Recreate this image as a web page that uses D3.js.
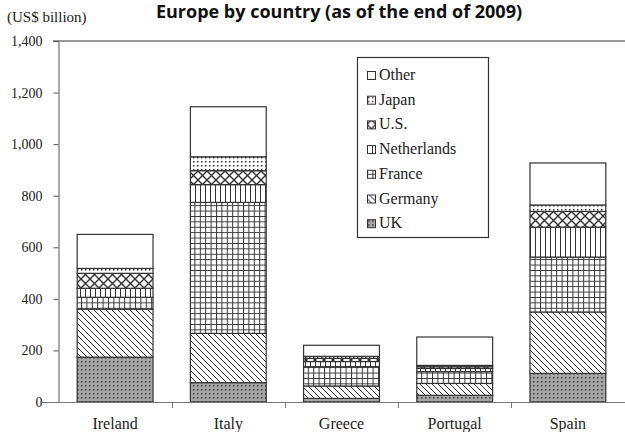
<!DOCTYPE html>
<html>
<head>
<meta charset="utf-8">
<script src="https://cdn.jsdelivr.net/npm/d3@7"></script>
<style>
  html, body { margin: 0; padding: 0; background: #fff; }
  svg { display: block; }
</style>
</head>
<body>
<svg id="chart" width="625" height="432"></svg>
<script>
// Foreign bank claims on selected European countries, by lender country (US$ billion)
const categories = ["Ireland", "Italy", "Greece", "Portugal", "Spain"];
const seriesNames = ["UK", "Germany", "France", "Netherlands", "U.S.", "Japan", "Other"];
const uk          = [174,  75, 14,  26, 111];
const germany     = [186, 191, 48,  46, 238];
const france      = [ 46, 508, 75,  46, 213];
const netherlands = [ 35,  69, 20,  12, 116];
const us          = [ 58,  54, 12,   7,  61];
const japan       = [ 19,  54,  8,   5,  25];
const other       = [132, 194, 43, 110, 163];
const yTicks = [0, 200, 400, 600, 800, 1000, 1200, 1400];
const titleText = "Europe by country (as of the end of 2009)";
const unitText = "(US$ billion)";

const seriesValues = [uk, germany, france, netherlands, us, japan, other];
const rows = categories.map((c, i) => {
  const r = { country: c };
  seriesNames.forEach((s, k) => { r[s] = seriesValues[k][i]; });
  return r;
});

const svg = d3.select("#chart");
const ink = "#333";
const serif = "'Liberation Serif', 'Times New Roman', 'DejaVu Serif', serif";

// Hatch patterns for each lender
const defs = svg.append("defs");
function pat(id, w, h) {
  return defs.append("pattern").attr("id", id)
    .attr("patternUnits", "userSpaceOnUse")
    .attr("width", w).attr("height", h);
}
// UK: grey with dark dot grid
let p = pat("p-UK", 4, 4);
p.append("rect").attr("width", 4).attr("height", 4).attr("fill", "#a6a6a6");
p.append("rect").attr("x", 1).attr("y", 1).attr("width", 1.6).attr("height", 1.6).attr("fill", "#444");
// Germany: back diagonal lines
p = pat("p-Germany", 6, 6);
p.append("rect").attr("width", 6).attr("height", 6).attr("fill", "#fff");
p.append("path").attr("d", "M0,0L6,6M-1,5L1,7M5,-1L7,1").attr("stroke", ink).attr("stroke-width", 1);
// France: square grid
p = pat("p-France", 5.4, 5.4);
p.append("rect").attr("width", 5.4).attr("height", 5.4).attr("fill", "#fff");
p.append("path").attr("d", "M0.5,0V5.4M0,0.5H5.4").attr("stroke", ink).attr("stroke-width", 1);
// Netherlands: vertical lines
p = pat("p-Netherlands", 5, 5);
p.append("rect").attr("width", 5).attr("height", 5).attr("fill", "#fff");
p.append("path").attr("d", "M0.5,0V5").attr("stroke", ink).attr("stroke-width", 1);
// U.S.: diagonal cross-hatch
p = pat("p-U.S.", 9, 9);
p.append("rect").attr("width", 9).attr("height", 9).attr("fill", "#fff");
p.append("path").attr("d", "M0,0L9,9M9,0L0,9").attr("stroke", ink).attr("stroke-width", 1.4);
// Japan: sparse dots
p = pat("p-Japan", 4, 4);
p.append("rect").attr("width", 4).attr("height", 4).attr("fill", "#fff");
p.append("rect").attr("x", 1).attr("y", 1).attr("width", 1.5).attr("height", 1.5).attr("fill", ink);
// Other: plain white
p = pat("p-Other", 4, 4);
p.append("rect").attr("width", 4).attr("height", 4).attr("fill", "#fff");

const fillOf = s => `url(#p-${s})`;

// Scales
const x = d3.scaleBand().domain(categories).range([58.5, 624.5])
  .paddingInner(0.33).paddingOuter(0.165);
const y = d3.scaleLinear().domain([0, 1400]).range([402, 41]);

// Top frame line
svg.append("line")
  .attr("x1", 53).attr("x2", 625)
  .attr("y1", y(1400)).attr("y2", y(1400))
  .attr("stroke", "#999").attr("stroke-width", 2);

// Stacked bars
const stack = d3.stack().keys(seriesNames)(rows);
const layers = svg.append("g").selectAll("g").data(stack).join("g")
  .attr("fill", d => fillOf(d.key));
layers.selectAll("rect").data(d => d).join("rect")
  .attr("x", d => x(d.data.country))
  .attr("width", x.bandwidth())
  .attr("y", d => y(d[1]))
  .attr("height", d => y(d[0]) - y(d[1]))
  .attr("stroke", ink).attr("stroke-width", 1.2);

// Y axis
const yAxis = svg.append("g").attr("transform", "translate(58.5,0)")
  .call(d3.axisLeft(y).tickValues(yTicks).tickFormat(d3.format(",")).tickSize(5).tickPadding(11));
yAxis.attr("font-family", null).attr("font-size", null);
yAxis.select(".domain").attr("stroke", "#555");
yAxis.selectAll(".tick line").attr("stroke", "#555");
yAxis.selectAll(".tick text")
  .style("font-family", serif).style("font-size", "14px").attr("fill", "#222");

// X axis: baseline with ticks between categories
svg.append("line").attr("x1", 40).attr("x2", 625).attr("y1", 402.5).attr("y2", 402.5)
  .attr("stroke", "#777").attr("stroke-width", 1);
const gap = x.step() * x.paddingInner() / 2;
svg.append("g").selectAll("line").data(categories.slice(1)).join("line")
  .attr("x1", d => Math.round(x(d) - gap) + 0.5).attr("x2", d => Math.round(x(d) - gap) + 0.5)
  .attr("y1", 402.5).attr("y2", 408)
  .attr("stroke", "#777");
svg.append("g").selectAll("text").data(categories).join("text")
  .attr("x", d => x(d) + x.bandwidth() / 2)
  .attr("y", 429)
  .attr("text-anchor", "middle")
  .style("font-family", serif).style("font-size", "16px").attr("fill", "#222")
  .text(d => d);

// Unit label and title
svg.append("text").attr("x", 7).attr("y", 22)
  .style("font-family", serif).style("font-size", "15px").attr("fill", "#222")
  .text(unitText);
svg.append("text").attr("x", 339).attr("y", 18).attr("text-anchor", "middle")
  .style("font-family", "'Open Sans', sans-serif").style("font-weight", "bold")
  .style("font-size", "18px").attr("fill", "#111").text(titleText);

// Legend
const lg = svg.append("g");
lg.append("rect").attr("x", 357.5).attr("y", 57.5).attr("width", 131).attr("height", 180)
  .attr("fill", "#fff").attr("stroke", ink).attr("stroke-width", 1.2);
const legendOrder = seriesNames.slice().reverse();
const li = lg.selectAll("g.item").data(legendOrder).join("g")
  .attr("class", "item")
  .attr("transform", (d, i) => `translate(367,${75 + i * 24.7})`);
li.append("rect").attr("x", 0.5).attr("y", -3.5).attr("width", 8).attr("height", 8)
  .attr("fill", d => fillOf(d)).attr("stroke", ink).attr("stroke-width", 1);
li.append("text").attr("x", 12).attr("y", 5)
  .style("font-family", serif).style("font-size", "16px").attr("fill", "#222")
  .text(d => d);
</script>
</body>
</html>
